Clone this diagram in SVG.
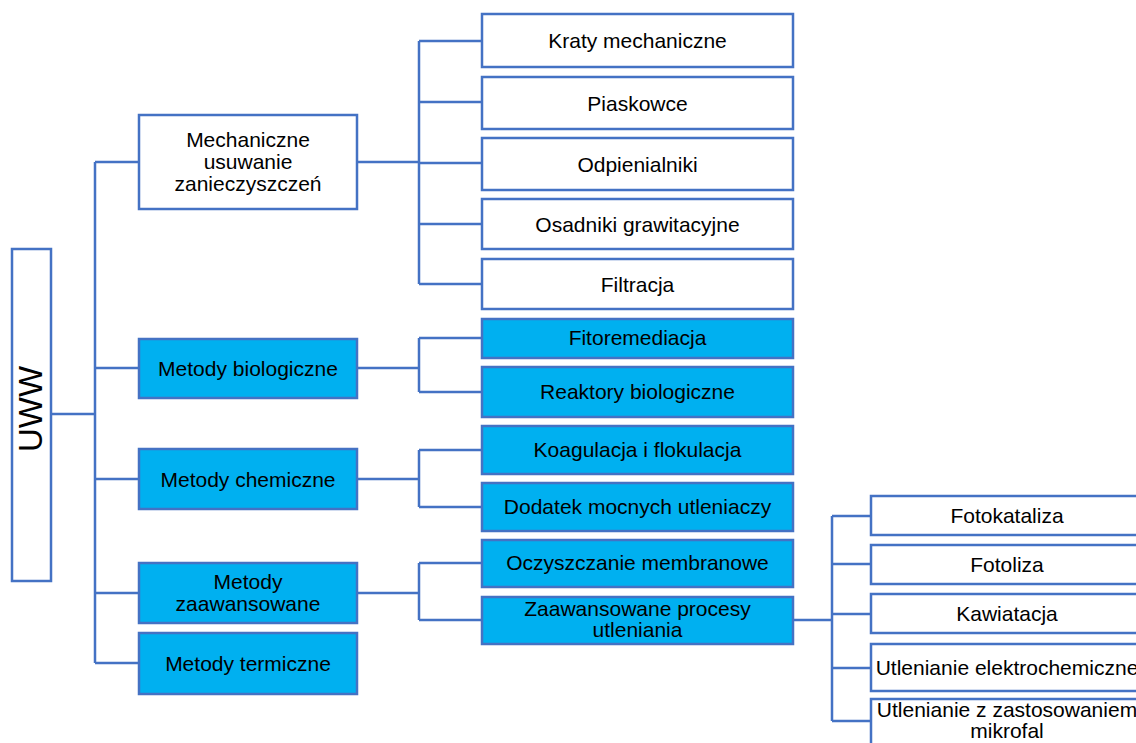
<svg xmlns="http://www.w3.org/2000/svg" width="1136" height="743" viewBox="0 0 1136 743">
<style>
.box{fill:#FFFFFF;stroke:#4472C4;stroke-width:2.5}
.fill{fill:#00B0F0;stroke:#4472C4;stroke-width:2.5}
.t{font-family:"Liberation Sans",Arial,sans-serif;font-size:21px;fill:#000;text-anchor:middle}
.c{fill:none;stroke:#4472C4;stroke-width:2.5}
</style>
<rect width="1136" height="743" fill="#FFFFFF"/>
<g id="connectors">
<path class="c" d="M51,414H95 M95,162V663 M95,162H139 M95,368H139 M95,479H139 M95,593H139 M95,663H139"/>
<path class="c" d="M357,162H419 M419,41V284 M419,41H482 M419,102H482 M419,163H482 M419,224H482 M419,284H482"/>
<path class="c" d="M357,368H419 M419,338V392 M419,338H482 M419,392H482"/>
<path class="c" d="M357,479H419 M419,450V507 M419,450H482 M419,507H482"/>
<path class="c" d="M357,593H419 M419,563V620 M419,563H482 M419,620H482"/>
<path class="c" d="M793,620H832 M832,516V721 M832,516H871 M832,564H871 M832,614H871 M832,668H871 M832,721H871"/>
</g>
<g id="uww"><rect class="box" x="12" y="249" width="39" height="332"/><text class="t" style="font-size:33px" transform="translate(42,409) rotate(-90)">UWW</text></g>
<g id="mech"><rect class="box" x="139" y="115" width="218" height="94"/><text class="t" x="248" y="147">Mechaniczne</text><text class="t" x="248" y="169">usuwanie</text><text class="t" x="248" y="191">zanieczyszczeń</text></g>
<g id="bio"><rect class="fill" x="139" y="339" width="218" height="59"/><text class="t" x="248" y="376">Metody biologiczne</text></g>
<g id="chem"><rect class="fill" x="139" y="449" width="218" height="60"/><text class="t" x="248" y="487">Metody chemiczne</text></g>
<g id="zaaw"><rect class="fill" x="139" y="563" width="218" height="60"/><text class="t" x="248" y="589">Metody</text><text class="t" x="248" y="611">zaawansowane</text></g>
<g id="term"><rect class="fill" x="139" y="633" width="218" height="61"/><text class="t" x="248" y="671">Metody termiczne</text></g>
<g id="kraty"><rect class="box" x="482" y="14" width="311" height="53"/><text class="t" x="637.5" y="48">Kraty mechaniczne</text></g>
<g id="piask"><rect class="box" x="482" y="77" width="311" height="52"/><text class="t" x="637.5" y="111">Piaskowce</text></g>
<g id="odpien"><rect class="box" x="482" y="138" width="311" height="52"/><text class="t" x="637.5" y="172">Odpienialniki</text></g>
<g id="osad"><rect class="box" x="482" y="199" width="311" height="50"/><text class="t" x="637.5" y="232">Osadniki grawitacyjne</text></g>
<g id="filtr"><rect class="box" x="482" y="259" width="311" height="50"/><text class="t" x="637.5" y="292">Filtracja</text></g>
<g id="fito"><rect class="fill" x="482" y="319" width="311" height="39"/><text class="t" x="637.5" y="345">Fitoremediacja</text></g>
<g id="reakt"><rect class="fill" x="482" y="367" width="311" height="50"/><text class="t" x="637.5" y="399">Reaktory biologiczne</text></g>
<g id="koag"><rect class="fill" x="482" y="426" width="311" height="48"/><text class="t" x="637.5" y="457">Koagulacja i flokulacja</text></g>
<g id="dodat"><rect class="fill" x="482" y="483" width="311" height="48"/><text class="t" x="637.5" y="514">Dodatek mocnych utleniaczy</text></g>
<g id="membr"><rect class="fill" x="482" y="540" width="311" height="47"/><text class="t" x="637.5" y="570">Oczyszczanie membranowe</text></g>
<g id="aop"><rect class="fill" x="482" y="597" width="311" height="47"/><text class="t" x="637.5" y="616">Zaawansowane procesy</text><text class="t" x="637.5" y="637">utleniania</text></g>
<g id="fotokat"><rect class="box" x="871" y="496" width="272" height="39"/><text class="t" x="1007" y="523">Fotokataliza</text></g>
<g id="fotoliza"><rect class="box" x="871" y="545" width="272" height="39"/><text class="t" x="1007" y="572">Fotoliza</text></g>
<g id="kawit"><rect class="box" x="871" y="594" width="272" height="39"/><text class="t" x="1007" y="621">Kawiatacja</text></g>
<g id="elektro"><rect class="box" x="871" y="644" width="272" height="47"/><text class="t" x="1007" y="675">Utlenianie elektrochemiczne</text></g>
<g id="mikro"><rect class="box" x="871" y="699" width="272" height="60"/><text class="t" x="1007" y="717">Utlenianie z zastosowaniem</text><text class="t" x="1007" y="738">mikrofal</text></g>
</svg>
